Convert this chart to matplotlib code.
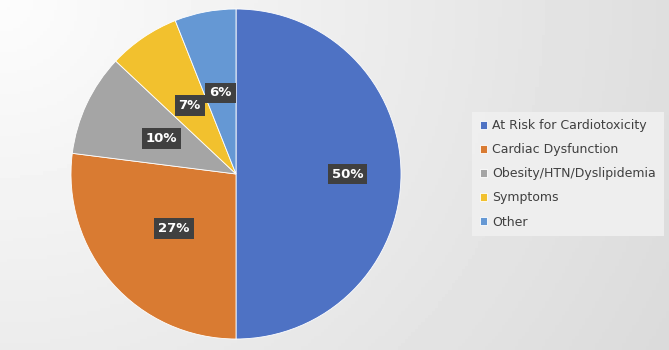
import matplotlib.pyplot as plt
import numpy as np

# data
categories = ["At Risk for Cardiotoxicity", "Cardiac Dysfunction",
              "Obesity/HTN/Dyslipidemia", "Symptoms", "Other"]
shares = [50, 27, 10, 7, 6]
colors = ["#4e72c4", "#d97b32", "#a5a5a5", "#f2c12e", "#6598d4"]

fig = plt.figure(figsize=(6.69, 3.5), dpi=100)
fig.patch.set_facecolor("#e5e5e5")

# background soft gradient (light top-left, darker right)
bg = fig.add_axes([0, 0, 1, 1], zorder=-10)
gx, gy = np.meshgrid(np.linspace(0, 1, 200), np.linspace(0, 1, 100))
g = 0.99 - 0.13 * np.sqrt((gx * 0.9) ** 2 + (gy * 0.5) ** 2)
bg.imshow(g, cmap="gray", vmin=0, vmax=1, aspect="auto", extent=[0, 1, 0, 1])
bg.axis("off")

################# PIE #########################################
ax = fig.add_axes([71 / 669, 11 / 350, 330 / 669, 330 / 350])
wedges, texts, autotexts = ax.pie(
    shares, colors=colors, startangle=90, counterclock=False,
    autopct="%d%%", pctdistance=0.5,
    wedgeprops=dict(edgecolor="white", linewidth=0.6),
    textprops=dict(color="white", fontsize=9.5, fontweight="bold"))
ax.set_aspect("equal")
ax.set_xlim(-1, 1)
ax.set_ylim(-1, 1)

for t in autotexts:
    t.set_bbox(dict(boxstyle="square,pad=0.3", fc="#404040", ec="none"))
# big slice label sits further out
x, y = autotexts[0].get_position()
autotexts[0].set_position((x * 1.35, y * 1.35))

################# LEGEND #########################################
fig.legend(wedges, categories, loc="center left",
           bbox_to_anchor=(466 / 669, 1 - 174 / 350),
           frameon=True, facecolor="#f0f0f0", edgecolor="none", framealpha=0.9,
           fancybox=False, fontsize=9, handlelength=0.6, handleheight=0.6,
           handletextpad=0.4, labelspacing=0.88, labelcolor="#404040",
           borderpad=0.6)

plt.savefig("out.png", dpi=100, facecolor=fig.get_facecolor())
